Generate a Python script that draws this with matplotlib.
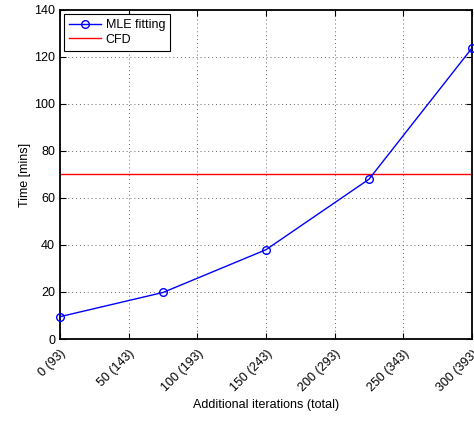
import numpy as np
import matplotlib

matplotlib.use('Agg')
import matplotlib.pyplot as plt

plt.rcParams['font.family'] = ['Liberation Sans', 'DejaVu Sans']

# Additional iterations and timings
iterations = [0, 75, 150, 225, 300]
mle_time = [9.5, 19.8, 38.0, 68.0, 123.8]
cfd_time = 70

tick_pos = [0, 50, 100, 150, 200, 250, 300]
tick_labels = ['0 (93)', '50 (143)', '100 (193)', '150 (243)',
               '200 (293)', '250 (343)', '300 (393)']

fs = 9

fig = plt.figure(figsize=(4.74, 4.25), dpi=100, facecolor='w')
ax = fig.add_axes([60 / 474, 86 / 425, 412 / 474, 329 / 425])

ax.plot(iterations, mle_time, '-o', color='b', lw=1.0, ms=5.5,
        mfc='none', mew=1.0, label='MLE fitting', clip_on=False, zorder=3)
ax.axhline(cfd_time, color='r', lw=1.0, label='CFD')

ax.set_xlim(0, 300)
ax.set_ylim(0, 140)
ax.set_xticks(tick_pos)
ax.set_xticklabels(tick_labels, rotation=45, ha='right', va='top',
                   rotation_mode='anchor')
ax.set_yticks(np.arange(0, 141, 20))

# MATLAB-like sparse dotted grid
ax.grid(True, ls=(0, (1, 3)), color='0.4', lw=0.7)
ax.tick_params(direction='in', top=True, right=True, labelsize=fs,
               length=4, width=0.8)
ax.tick_params(axis='x', pad=6)
for sp in ax.spines.values():
    sp.set_linewidth(1.3)

ax.set_xlabel('Additional iterations (total)', fontsize=fs, labelpad=4)
ax.set_ylabel('Time [mins]', fontsize=fs, labelpad=2)

leg = ax.legend(loc='upper left', fontsize=fs, fancybox=False,
                framealpha=1, edgecolor='k', borderaxespad=0.35,
                handlelength=2.5, handletextpad=0.4, borderpad=0.4,
                labelspacing=0.2)
leg.get_frame().set_linewidth(0.8)

fig.savefig('out.png', dpi=100)
plt.close(fig)
